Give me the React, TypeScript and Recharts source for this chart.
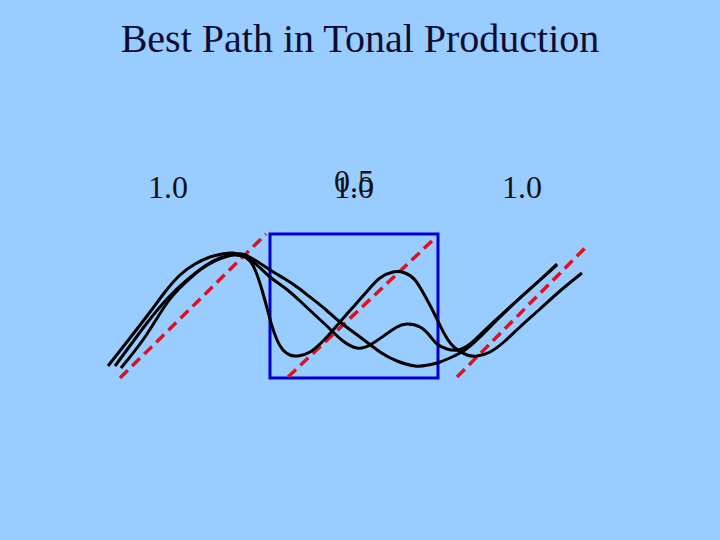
import { ComposedChart, Line, XAxis, YAxis, ReferenceArea, ReferenceDot } from 'recharts';

// values, in slide units (x to the right, y downward)
const steepX = [108, 130, 150, 165, 180, 195, 210, 222, 233, 243, 250, 256, 262, 267, 272, 277, 283, 290, 298, 310, 325, 340, 355, 370, 380, 393, 405, 415, 425, 435, 445, 455, 467, 477, 490, 505, 520, 540, 560, 582];
const steepY = [366, 338, 312, 292, 275, 264, 257, 254, 253, 256, 261, 272, 290, 308, 326, 340, 350, 355, 356, 352, 339, 322, 305, 288, 278, 272, 273, 280, 296, 315, 335, 348, 355, 356, 352, 341, 327, 309, 291, 273];

const middleX = [115, 132, 147, 167, 187, 205, 220, 233, 245, 258, 270, 285, 300, 315, 330, 343, 357, 370, 385, 397, 407, 420, 430, 437, 447, 458, 470, 485, 500, 520, 540, 557];
const middleY = [366, 343, 323, 299, 280, 266, 258, 255, 257, 266, 277, 288, 301, 315, 329, 341, 348, 345, 335, 327, 324, 327, 336, 344, 349, 350, 344, 330, 316, 298, 280, 264];

const thirdX = [121, 145, 167, 185, 200, 215, 228, 237, 245, 258, 270, 285, 297, 310, 325, 340, 360, 380, 397, 415, 428, 440, 452, 465, 480, 500, 520, 540, 557];
const thirdY = [368, 337, 303, 283, 270, 261, 256, 254, 255, 262, 270, 279, 287, 297, 309, 322, 337, 352, 361, 366, 365, 362, 357, 350, 337, 317, 298, 280, 265];

const guide1X = [120, 266];
const guide1Y = [378, 234];
const guide2X = [288, 433];
const guide2Y = [377, 240];
const guide3X = [457, 587];
const guide3Y = [377, 246];

const boxX = [270, 438];
const boxY = [234, 378];

const toneCentres = [168, 354, 522];
const toneLabels = ['1.0', '1.0', '1.0'];
const midToneLabel = '0.5';
const title = 'Best Path in Tonal Production';

const zip = (xs: number[], ys: number[]) => xs.map((x, i) => ({ x, y: ys[i] }));

const curves = [zip(steepX, steepY), zip(middleX, middleY), zip(thirdX, thirdY)];
const guides = [zip(guide1X, guide1Y), zip(guide2X, guide2Y), zip(guide3X, guide3Y)];

const serif = '"Liberation Serif", "Times New Roman", serif';

export default function App() {
  return (
    <div style={{ width: 720, height: 540, background: '#99ccff' }}>
      <style>{'body{margin:0}'}</style>
      <ComposedChart width={720} height={540} margin={{ top: 0, right: 0, bottom: 0, left: 0 }}>
        <XAxis type="number" dataKey="x" domain={[0, 720]} hide allowDataOverflow />
        <YAxis type="number" dataKey="y" domain={[0, 540]} reversed hide allowDataOverflow />

        <ReferenceArea
          x1={boxX[0]}
          x2={boxX[1]}
          y1={boxY[0]}
          y2={boxY[1]}
          fill="none"
          fillOpacity={0}
          stroke="#0000cc"
          strokeWidth={3}
        />

        {guides.map((g, i) => (
          <Line
            key={`guide-${i}`}
            data={g}
            dataKey="y"
            type="linear"
            stroke="#dd1122"
            strokeWidth={3.5}
            strokeDasharray="11 6"
            dot={false}
            activeDot={false}
            isAnimationActive={false}
          />
        ))}

        {curves.map((c, i) => (
          <Line
            key={`curve-${i}`}
            data={c}
            dataKey="y"
            type="natural"
            stroke="#000000"
            strokeWidth={3}
            dot={false}
            activeDot={false}
            isAnimationActive={false}
          />
        ))}

        <ReferenceDot
          x={360}
          y={38}
          r={0}
          fill="none"
          stroke="none"
          label={{ value: title, position: 'center', fontSize: 40, fill: '#0d0d33', fontFamily: serif }}
        />
        {toneLabels.map((t, i) => (
          <ReferenceDot
            key={`tone-${i}`}
            x={toneCentres[i]}
            y={187}
            r={0}
            fill="none"
            stroke="none"
            label={{ value: t, position: 'center', fontSize: 32, fill: '#111111', fontFamily: serif }}
          />
        ))}
        <ReferenceDot
          x={toneCentres[1]}
          y={181}
          r={0}
          fill="none"
          stroke="none"
          label={{ value: midToneLabel, position: 'center', fontSize: 32, fill: '#111111', fontFamily: serif }}
        />
      </ComposedChart>
    </div>
  );
}
